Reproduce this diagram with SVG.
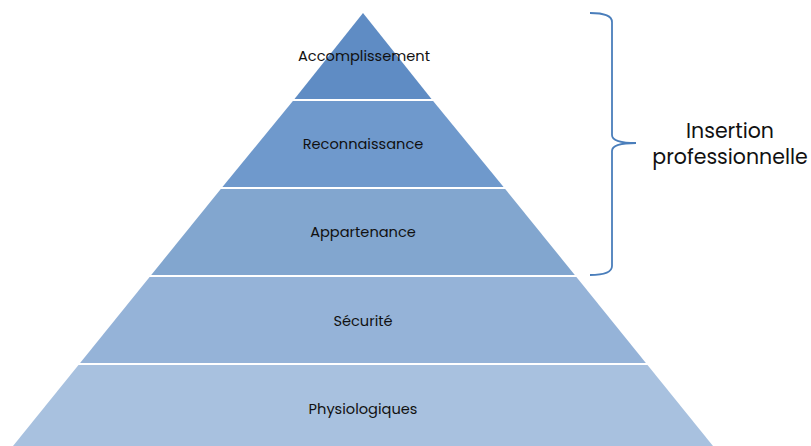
<svg xmlns="http://www.w3.org/2000/svg" width="811" height="446" viewBox="0 0 811 446">
<style>
.lbl{font-family:"Poppins","Open Sans","Liberation Sans",sans-serif;font-size:14.6px;fill:#111;text-anchor:middle}
.big{font-family:"Poppins","Open Sans","Liberation Sans",sans-serif;font-size:20.5px;fill:#111;text-anchor:middle}
.sep{stroke:#fff;stroke-width:2}
</style>
<rect width="811" height="446" fill="#fff"/>
<g id="accomplissement">
<polygon points="363,13 432.3,100 293.7,100" fill="#5f8cc4"/>
<text class="lbl" x="364" y="61">Accomplissement</text>
</g>
<g id="reconnaissance">
<polygon points="293.7,100 432.3,100 504.4,188 221.6,188" fill="#6f99cc"/>
<text class="lbl" x="363" y="149">Reconnaissance</text>
</g>
<g id="appartenance">
<polygon points="221.6,188 504.4,188 575.6,276 150.4,276" fill="#82a6cf"/>
<text class="lbl" x="363" y="237">Appartenance</text>
</g>
<g id="securite">
<polygon points="150.4,276 575.6,276 646.7,364 79.3,364" fill="#95b3d8"/>
<text class="lbl" x="363" y="326">Sécurité</text>
</g>
<g id="physiologiques">
<polygon points="79.3,364 646.7,364 713,446 13,446" fill="#a8c1df"/>
<text class="lbl" x="363" y="414">Physiologiques</text>
</g>
<g id="separators">
<line class="sep" x1="280" y1="100" x2="446" y2="100"/>
<line class="sep" x1="210" y1="188" x2="516" y2="188"/>
<line class="sep" x1="140" y1="276" x2="586" y2="276"/>
<line class="sep" x1="68" y1="364" x2="658" y2="364"/>
</g>
<g id="connectors">
<path d="M590,13 Q612,13 612,22 L612,135 Q612,143 636,143 Q612,143 612,151 L612,266 Q612,275 590,275" fill="none" stroke="#4a7ebb" stroke-width="1.8"/>
</g>
<g id="insertion">
<text class="big" x="730" y="138">Insertion</text>
<text class="big" x="730" y="164">professionnelle</text>
</g>
</svg>
